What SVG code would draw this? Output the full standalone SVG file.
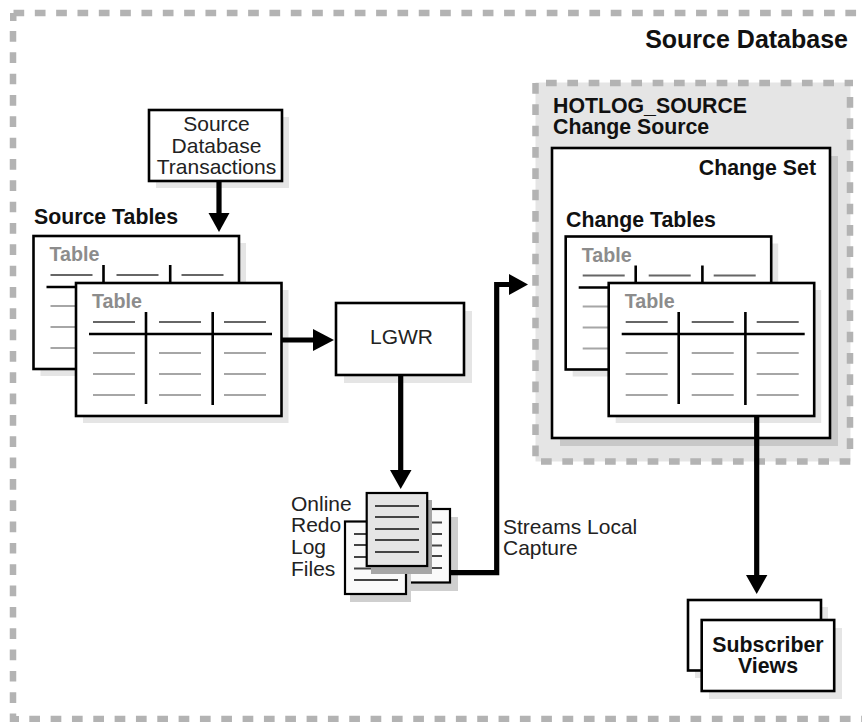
<svg xmlns="http://www.w3.org/2000/svg" xmlns:xlink="http://www.w3.org/1999/xlink" width="862" height="722" viewBox="0 0 862 722">
<style>
text{font-family:"Liberation Sans",Arial,sans-serif;fill:#000}
.b{font-weight:700;font-size:21.3px;fill:#111}
.r{font-size:21px;fill:#222}
.c{text-anchor:middle}
.box{fill:#fff;stroke:#000;stroke-width:2.6}
.sh{fill:#e5e5e5}
.tt{font-weight:700;font-size:19.700px;fill:#8c8c8c}
.hd{stroke:#666;stroke-width:2;fill:none}
.rw{stroke:#a6a6a6;stroke-width:2;fill:none}
.bl{stroke:#000;stroke-width:2.6;fill:none}
.dash{fill:none;stroke:#b3b3b3;stroke-width:6.5;stroke-dasharray:10.7 10.63}
.wire{fill:none;stroke:#000;stroke-width:5.2}
.ln{stroke:#444;stroke-width:1.8;fill:none}
.doc{stroke:#000;stroke-width:2.2}
</style>
<defs>
<g id="tbl">
<rect class="sh" x="7" y="7" width="205.500" height="133"/>
<rect class="box" x="0" y="0" width="205.500" height="133"/>
<text class="tt" x="16" y="25">Table</text>
<path class="hd" d="M17 39H59M83 39H125M148 39H190"/>
<path class="bl" d="M13 51H196M70 29V121M136.700 29V122"/>
<path class="rw" d="M17 70H59M83 70H125M148 70H190M17 91H59M83 91H125M148 91H190M17 112H59M83 112H125M148 112H190"/>
</g>
</defs>
<g id="source-database">
<path class="dash" d="M13.500 13H862M13 31V722M29.300 719H862"/>
<path d="M10 13H16.500V21H10ZM10 716H19V722H10Z" fill="#b3b3b3"/>
<text class="b" x="848" y="48" text-anchor="end" style="font-size:25px">Source Database</text>
</g>
<g id="hotlog-source">
<rect x="535.500" y="82.500" width="315" height="379" fill="#e5e5e5"/>
<path class="dash" d="M546 83H853M535.500 83V461M541 461.500H853M850 97V449"/>
<text class="b" x="553" y="113">HOTLOG_SOURCE</text>
<text class="b" x="553" y="134">Change Source</text>
</g>
<g id="change-set">
<rect x="560" y="156" width="278" height="290" fill="#c8c8c8"/>
<rect class="box" x="552" y="148" width="278" height="290"/>
<text class="b" x="816" y="175" text-anchor="end">Change Set</text>
<text class="b" x="566" y="227">Change Tables</text>
</g>
<g id="change-tables">
<use xlink:href="#tbl" href="#tbl" x="565.700" y="236.500"/>
<use xlink:href="#tbl" href="#tbl" x="608.700" y="283"/>
</g>
<g id="transactions">
<rect class="sh" x="156" y="117" width="133" height="71"/>
<rect class="box" x="149" y="110" width="133" height="71"/>
<text class="r c" x="216.500" y="131">Source</text>
<text class="r c" x="216.500" y="153">Database</text>
<text class="r c" x="216.500" y="174">Transactions</text>
</g>
<g id="source-tables">
<text class="b" x="34" y="224">Source Tables</text>
<use xlink:href="#tbl" href="#tbl" x="33.500" y="236"/>
<use xlink:href="#tbl" href="#tbl" x="76" y="283"/>
</g>
<g id="lgwr">
<rect class="sh" x="344" y="311" width="128" height="72"/>
<rect class="box" x="336" y="303" width="128" height="72"/>
<text class="r c" x="401.500" y="344">LGWR</text>
</g>
<g id="redo-logs">
<rect x="397" y="517" width="61" height="74" fill="#cfcfcf"/>
<rect class="doc" x="389" y="509" width="61" height="73.500" fill="#fafafa"/>
<path class="ln" d="M398 522.500H442M398 534H442M398 545.500H442M398 556H442M398 568H442"/>
<rect x="350" y="528" width="61" height="74" fill="#cfcfcf"/>
<rect class="doc" x="345" y="521.500" width="61" height="72.500" fill="#fafafa"/>
<path class="ln" d="M354 534H398M354 545H398M354 557H398M354 568.500H398M354 580H398"/>
<rect x="371" y="500" width="61" height="74" fill="#a6a6a6"/>
<rect class="doc" x="366.700" y="493" width="60.500" height="73" fill="#e5e5e5"/>
<path class="ln" d="M375 506H419M375 517H419M375 529H419M375 540H419M375 552H419"/>
<text class="r" x="291" y="511">Online</text>
<text class="r" x="291" y="532">Redo</text>
<text class="r" x="291" y="554">Log</text>
<text class="r" x="291" y="575.500">Files</text>
<text class="r" x="503" y="534">Streams Local</text>
<text class="r" x="503" y="555">Capture</text>
</g>
<g id="subscriber-views">
<rect class="sh" x="695" y="607" width="133" height="71"/>
<rect class="box" x="688" y="600" width="133" height="70.500"/>
<rect class="sh" x="709" y="628" width="133" height="71"/>
<rect class="box" x="701.700" y="620" width="132.500" height="71"/>
<text class="b c" x="768" y="652">Subscriber</text>
<text class="b c" x="768" y="673">Views</text>
</g>
<g id="connectors">
<path class="wire" d="M219 181V214"/>
<path d="M208.500 213H229.500L219 232Z"/>
<path class="wire" d="M282 340H315"/>
<path d="M313 329V351L334 340Z"/>
<path class="wire" d="M400.700 375V471"/>
<path d="M390 470H411.500L400.700 489Z"/>
<path class="wire" d="M450 572.700H496.700V284.500H510"/>
<path d="M509 274V295L528 284.500Z"/>
<path class="wire" d="M756.700 416V576"/>
<path d="M746 575H767.400L756.700 594Z"/>
</g>
</svg>
